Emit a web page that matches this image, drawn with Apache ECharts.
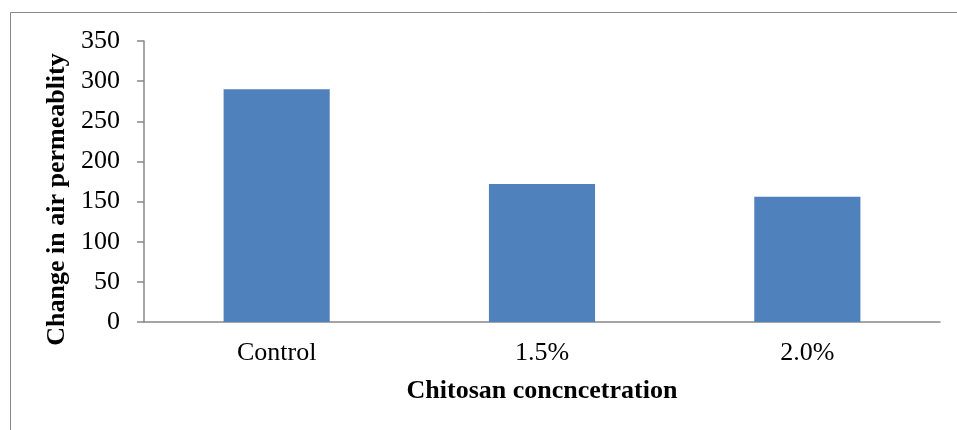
<!DOCTYPE html>
<html>
<head>
<meta charset="utf-8">
<script src="https://cdn.jsdelivr.net/npm/echarts@6/dist/echarts.min.js"></script>
<style>
  html, body { margin: 0; padding: 0; background: #fff; }
  #chart { width: 957px; height: 430px; }
</style>
</head>
<body>
<div id="chart"></div>
<script>
var categories = ['Control', '1.5%', '2.0%'];
var permeability = [290, 172, 156];
var yTicks = [0, 50, 100, 150, 200, 250, 300, 350];

var chart = echarts.init(document.getElementById('chart'));
var font = '"Liberation Serif", "Times New Roman", serif';

var option = {
    animation: false,
    graphic: [
        { type: 'line', shape: { x1: 10.5, y1: 12.5, x2: 957, y2: 12.5 }, style: { stroke: '#888', lineWidth: 1 } },
        { type: 'line', shape: { x1: 10.5, y1: 12.5, x2: 10.5, y2: 430 }, style: { stroke: '#888', lineWidth: 1 } }
    ],
    grid: {
        left: 144,
        right: 17,
        top: 41,
        bottom: 108
    },
    xAxis: {
        type: 'category',
        data: categories,
        name: 'Chitosan concncetration',
        nameLocation: 'middle',
        nameGap: 56,
        nameTextStyle: { fontFamily: font, fontSize: 26, fontWeight: 'bold', color: '#000' },
        axisLine: { lineStyle: { color: '#888', width: 1.5 } },
        axisTick: { show: false },
        axisLabel: { fontFamily: font, fontSize: 26, color: '#000', margin: 18 }
    },
    yAxis: {
        type: 'value',
        min: yTicks[0],
        max: yTicks[yTicks.length - 1],
        interval: 50,
        name: 'Change in air permeablity',
        nameLocation: 'middle',
        nameGap: 70,
        nameTextStyle: { fontFamily: font, fontSize: 26, fontWeight: 'bold', color: '#000', padding: [0, 36, 0, 0] },
        axisLine: { show: true, lineStyle: { color: '#888', width: 1.5 } },
        axisTick: { show: true, length: 7, lineStyle: { color: '#888', width: 1.5 } },
        splitLine: { show: false },
        axisLabel: { fontFamily: font, fontSize: 26, color: '#000', margin: 24 }
    },
    series: [
        {
            name: 'Change in air permeablity',
            type: 'bar',
            barWidth: '40%',
            itemStyle: { color: '#4F81BD' },
            data: permeability
        }
    ]
};

chart.setOption(option);
</script>
</body>
</html>
